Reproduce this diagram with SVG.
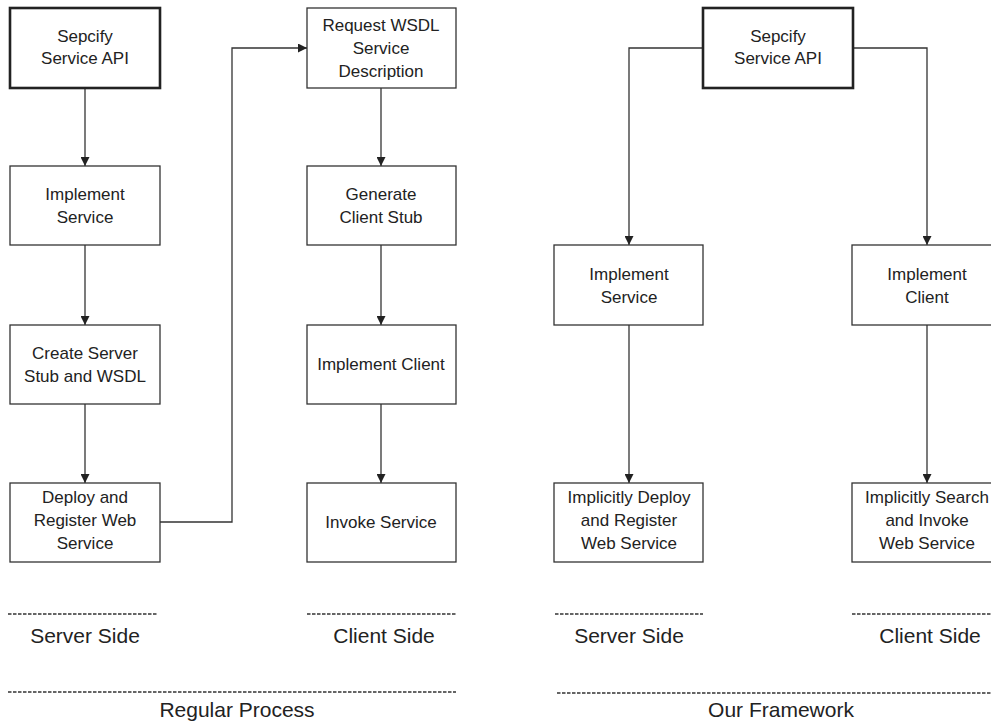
<svg xmlns="http://www.w3.org/2000/svg" width="991" height="728" viewBox="0 0 991 728">
  <defs>
    <marker id="arrow" viewBox="0 0 10 10" refX="10" refY="5" markerWidth="9" markerHeight="9" markerUnits="userSpaceOnUse" orient="auto">
      <path d="M0,0 L10,5 L0,10 z" fill="#222"/>
    </marker>
    <style>
      .box { fill: #fff; stroke: #333; stroke-width: 1.3; }
      .box-start { fill: #fff; stroke: #222; stroke-width: 2.6; }
      .label { font-family: "Liberation Sans", Arial, sans-serif; font-size: 17px; fill: #222; text-anchor: middle; }
      .caption { font-family: "Liberation Sans", Arial, sans-serif; font-size: 21px; fill: #222; text-anchor: middle; }
      .link { fill: none; stroke: #333; stroke-width: 1.3; }
      .sep { fill: none; stroke: #333; stroke-width: 1.6; stroke-dasharray: 3.5 1.5; }
    </style>
  </defs>
  <rect width="991" height="728" fill="#fff"/>

  <!-- connectors -->
  <g id="connectors">
    <!-- regular process: server side -->
    <path class="link" d="M85,88 V166" marker-end="url(#arrow)"/>
    <path class="link" d="M85,245 V325" marker-end="url(#arrow)"/>
    <path class="link" d="M85,404 V483" marker-end="url(#arrow)"/>
    <path class="link" d="M160,522 H232 V48 H307" marker-end="url(#arrow)"/>
    <!-- regular process: client side -->
    <path class="link" d="M381,88 V166" marker-end="url(#arrow)"/>
    <path class="link" d="M381,245 V325" marker-end="url(#arrow)"/>
    <path class="link" d="M381,404 V483" marker-end="url(#arrow)"/>
    <!-- our framework -->
    <path class="link" d="M703,48 H629 V245" marker-end="url(#arrow)"/>
    <path class="link" d="M853,48 H927 V245" marker-end="url(#arrow)"/>
    <path class="link" d="M629,325 V483" marker-end="url(#arrow)"/>
    <path class="link" d="M927,325 V483" marker-end="url(#arrow)"/>
  </g>

  <!-- regular process: server side -->
  <g id="rp-specify">
    <rect class="box-start" x="10" y="8" width="150" height="80"/>
    <text class="label" x="85" y="42">Sepcify</text>
    <text class="label" x="85" y="64">Service API</text>
  </g>
  <g id="rp-implement-service">
    <rect class="box" x="10" y="166" width="150" height="79"/>
    <text class="label" x="85" y="200">Implement</text>
    <text class="label" x="85" y="223">Service</text>
  </g>
  <g id="rp-create-stub">
    <rect class="box" x="10" y="325" width="150" height="79"/>
    <text class="label" x="85" y="359">Create Server</text>
    <text class="label" x="85" y="382">Stub and WSDL</text>
  </g>
  <g id="rp-deploy">
    <rect class="box" x="10" y="483" width="150" height="79"/>
    <text class="label" x="85" y="503">Deploy and</text>
    <text class="label" x="85" y="526">Register Web</text>
    <text class="label" x="85" y="549">Service</text>
  </g>

  <!-- regular process: client side -->
  <g id="rp-request-wsdl">
    <rect class="box" x="307" y="8" width="149" height="80"/>
    <text class="label" x="381" y="31">Request WSDL</text>
    <text class="label" x="381" y="54">Service</text>
    <text class="label" x="381" y="77">Description</text>
  </g>
  <g id="rp-generate-stub">
    <rect class="box" x="307" y="166" width="149" height="79"/>
    <text class="label" x="381" y="200">Generate</text>
    <text class="label" x="381" y="223">Client Stub</text>
  </g>
  <g id="rp-implement-client">
    <rect class="box" x="307" y="325" width="149" height="79"/>
    <text class="label" x="381" y="370">Implement Client</text>
  </g>
  <g id="rp-invoke">
    <rect class="box" x="307" y="483" width="149" height="79"/>
    <text class="label" x="381" y="528">Invoke Service</text>
  </g>

  <!-- our framework -->
  <g id="of-specify">
    <rect class="box-start" x="703" y="8" width="150" height="80"/>
    <text class="label" x="778" y="42">Sepcify</text>
    <text class="label" x="778" y="64">Service API</text>
  </g>
  <g id="of-implement-service">
    <rect class="box" x="554" y="245" width="149" height="80"/>
    <text class="label" x="629" y="280">Implement</text>
    <text class="label" x="629" y="303">Service</text>
  </g>
  <g id="of-implement-client">
    <rect class="box" x="852" y="245" width="150" height="80"/>
    <text class="label" x="927" y="280">Implement</text>
    <text class="label" x="927" y="303">Client</text>
  </g>
  <g id="of-deploy">
    <rect class="box" x="554" y="483" width="149" height="79"/>
    <text class="label" x="629" y="503">Implicitly Deploy</text>
    <text class="label" x="629" y="526">and Register</text>
    <text class="label" x="629" y="549">Web Service</text>
  </g>
  <g id="of-invoke">
    <rect class="box" x="852" y="483" width="150" height="79"/>
    <text class="label" x="927" y="503">Implicitly Search</text>
    <text class="label" x="927" y="526">and Invoke</text>
    <text class="label" x="927" y="549">Web Service</text>
  </g>

  <!-- section captions -->
  <g id="captions">
    <path class="sep" d="M8,614 H158"/>
    <text class="caption" x="85" y="643">Server Side</text>
    <path class="sep" d="M307,614 H456"/>
    <text class="caption" x="384" y="643">Client Side</text>
    <path class="sep" d="M8,692 H456"/>
    <text class="caption" x="237" y="717">Regular Process</text>

    <path class="sep" d="M555,614 H703"/>
    <text class="caption" x="629" y="643">Server Side</text>
    <path class="sep" d="M852,614 H991"/>
    <text class="caption" x="930" y="643">Client Side</text>
    <path class="sep" d="M557,693 H991"/>
    <text class="caption" x="781" y="717">Our Framework</text>
  </g>
</svg>
